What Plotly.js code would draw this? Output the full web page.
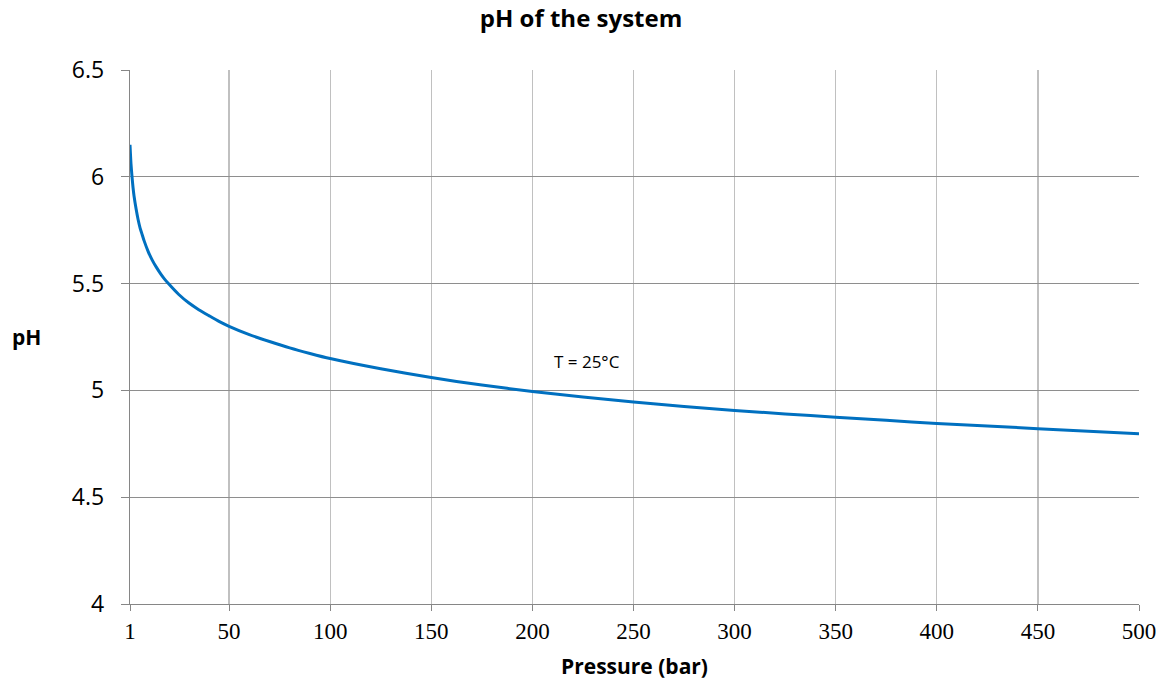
<!DOCTYPE html>
<html>
<head>
<meta charset="utf-8">
<script src="https://cdn.plot.ly/plotly-3.0.1.min.js"></script>
<style>html,body{margin:0;padding:0;background:#fff;}#chart{width:1162px;height:685px;}</style>
</head>
<body>
<div id="chart"></div>
<script>
// Pressure (bar) and pH values
const pressure = [1, 1.5, 2, 2.5, 3, 4, 5, 6, 7, 8, 10, 12, 14, 16, 18, 20, 25, 30, 35, 40, 45, 50, 60, 70, 80, 90, 100, 125, 150, 175, 200, 225, 250, 275, 300, 325, 350, 375, 400, 425, 450, 475, 500];
const pH = [6.15, 6.06, 6.00, 5.95, 5.91, 5.85, 5.80, 5.76, 5.73, 5.70, 5.65, 5.61, 5.577, 5.548, 5.522, 5.50, 5.45, 5.41, 5.378, 5.35, 5.323, 5.30, 5.261, 5.229, 5.199, 5.173, 5.149, 5.101, 5.06, 5.025, 4.995, 4.969, 4.946, 4.925, 4.906, 4.89, 4.874, 4.86, 4.845, 4.833, 4.821, 4.809, 4.797];
const xTicks = [1, 50, 100, 150, 200, 250, 300, 350, 400, 450, 500];
const yTicks = [4, 4.5, 5, 5.5, 6, 6.5];
const yTickText = ["4", "4.5", "5", "5.5", "6", "6.5"];
const titleText = "pH of the system";
const xTitle = "Pressure (bar)";
const yTitle = "pH";
const noteText = "T = 25°C";

const trace = {
  x: pressure, y: pH, type: "scatter", mode: "lines",
  line: {color: "#0070C0", width: 3, shape: "spline", smoothing: 0.6},
  hoverinfo: "skip", showlegend: false
};

const layout = {
  width: 1162, height: 685,
  margin: {l: 130, r: 23, t: 70, b: 81},
  paper_bgcolor: "#fff", plot_bgcolor: "#fff",
  font: {family: "Open Sans, sans-serif", color: "#000"},
  title: {text: "<b>" + titleText + "</b>", font: {family: "Open Sans, sans-serif", size: 24, color: "#000"}, x: 0.5, xanchor: "center", y: 0.973, yanchor: "middle"},
  xaxis: {
    range: [1, 500], tickvals: xTicks, ticktext: xTicks.map(String),
    tickfont: {family: "Liberation Serif, Times New Roman, serif", size: 23, color: "#000"},
    showgrid: true, gridcolor: "#c0c0c0", gridwidth: 1.3,
    showline: true, linecolor: "#868686", linewidth: 1.3,
    ticks: "outside", ticklen: 6, tickcolor: "#868686",
    zeroline: false,
    title: {text: "<b>" + xTitle + "</b>", font: {family: "Open Sans, sans-serif", size: 21, color: "#000"}, standoff: 16}
  },
  yaxis: {
    range: [4, 6.5], tickvals: yTicks, ticktext: yTickText,
    tickfont: {family: "Open Sans, sans-serif", size: 23, color: "#000"},
    ticklabelstandoff: 12,
    showgrid: true, gridcolor: "#8e8e8e", gridwidth: 1.3,
    showline: true, linecolor: "#868686", linewidth: 1.3,
    ticks: "outside", ticklen: 8, tickcolor: "#868686",
    zeroline: false
  },
  annotations: [
    {text: "<b>" + yTitle + "</b>", xref: "paper", yref: "paper", x: -0.103, y: 0.5, xanchor: "center", yanchor: "middle", showarrow: false, font: {family: "Open Sans, sans-serif", size: 21, color: "#000"}},
    {text: noteText, xref: "x", yref: "y", x: 227, y: 5.136, xanchor: "center", yanchor: "middle", showarrow: false, font: {family: "Open Sans, sans-serif", size: 17, color: "#000"}}
  ]
};

Plotly.newPlot("chart", [trace], layout, {displayModeBar: false, staticPlot: true});
</script>
</body>
</html>
